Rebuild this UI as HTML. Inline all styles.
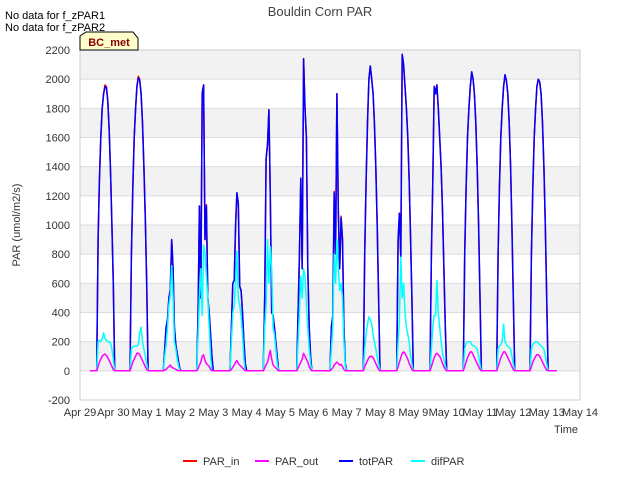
<!DOCTYPE html>
<html><head><meta charset="utf-8"><style>
body{margin:0;background:#fff;font-family:"Liberation Sans",sans-serif;}
svg text{font-family:"Liberation Sans",sans-serif;}
</style></head><body>
<svg id="chart" width="640" height="480">
<text x="320" y="16" text-anchor="middle" font-size="13" fill="#444">Bouldin Corn PAR</text>
<text x="5" y="19" font-size="11" fill="#000">No data for f_zPAR1</text>
<text x="5" y="31" font-size="11" fill="#000">No data for f_zPAR2</text>
<g id="grid"></g>
<g id="axes"></g>
<g id="series"></g>
<g>
<path d="M80,50 L80,36 L86,32 L133,32 L138,38 L138,50 Z" fill="#ffffcc" stroke="#000" stroke-width="1"/>
<text x="109" y="46" text-anchor="middle" font-size="11" font-weight="bold" fill="#8b0000">BC_met</text>
</g>
<text x="20" y="225" transform="rotate(-90 20 225)" text-anchor="middle" font-size="11" fill="#333">PAR (umol/m2/s)</text>
<text x="578" y="433" text-anchor="end" font-size="11" fill="#333">Time</text>
<g id="legend"></g>
</svg>
<script>
const dayLabels=["Apr 29","Apr 30","May 1","May 2","May 3","May 4","May 5","May 6","May 7","May 8","May 9","May 10","May 11","May 12","May 13","May 14"];
const yTicks=[-200,0,200,400,600,800,1000,1200,1400,1600,1800,2000,2200];
const hours=[12,13,14,15,16,17,18,19,20,21,22,23,24,25];
const totPAR=[
[0,900,1300,1600,1800,1900,1950,1940,1850,1650,1350,1000,600,0],
[0,800,1250,1600,1800,1950,2010,1990,1900,1700,1400,1050,600,0],
[0,150,300,350,500,560,900,700,300,180,120,60,10,0],
[0,400,1130,500,1900,1960,900,1130,500,400,250,100,0,0],
[0,300,600,620,1000,1220,1150,580,550,400,200,50,0,0],
[0,500,1450,1550,1790,1200,400,380,300,200,100,0,0,0],
[0,400,780,1320,700,2140,1800,1600,700,300,100,0,0,0],
[0,300,380,1220,800,1900,1100,700,1050,900,300,50,0,0],
[0,800,1300,1700,2000,2090,2000,1900,1700,1400,1000,500,0,0],
[0,900,1080,780,2170,2100,1950,1800,1600,1300,900,500,0,0],
[0,800,1300,1950,1900,1960,1800,1600,1400,1100,700,300,0,0],
[0,800,1250,1600,1800,1950,2050,2000,1900,1700,1400,1000,500,0],
[0,800,1250,1600,1800,1950,2030,1990,1900,1700,1400,1000,500,0],
[0,800,1250,1600,1800,1950,2000,1980,1900,1700,1400,1000,500,0]];
const parIn=[
[0,910,1310,1600,1800,1900,1960,1950,1850,1650,1350,1000,600,0],
[0,800,1250,1600,1800,1950,2020,2000,1900,1700,1400,1050,600,0],
[0,150,300,350,500,560,900,700,300,180,120,60,10,0],
[0,400,1130,500,1910,1960,900,1140,500,400,250,100,0,0],
[0,300,600,620,1000,1220,1150,580,550,400,200,50,0,0],
[0,500,1460,1550,1790,1200,400,380,300,200,100,0,0,0],
[0,400,780,1320,700,2140,1800,1600,700,300,100,0,0,0],
[0,300,380,1230,800,1900,1100,700,1060,900,300,50,0,0],
[0,800,1300,1700,2000,2090,2000,1900,1700,1400,1000,500,0,0],
[0,900,1080,780,2170,2100,1950,1800,1600,1300,900,500,0,0],
[0,800,1300,1950,1900,1960,1800,1600,1400,1100,700,300,0,0],
[0,800,1250,1600,1800,1950,2050,2000,1900,1700,1400,1000,500,0],
[0,800,1250,1600,1800,1950,2030,1990,1900,1700,1400,1000,500,0],
[0,800,1250,1600,1800,1950,2000,1980,1900,1700,1400,1000,500,0]];
const difPAR=[
[0,200,210,200,220,260,220,210,200,200,190,150,80,0],
[0,150,165,170,170,170,180,260,300,200,150,100,50,0],
[0,100,180,300,450,520,720,500,200,150,80,30,0,0],
[0,250,500,700,380,860,800,650,500,300,100,0,0,0],
[0,200,400,450,600,820,500,450,380,250,80,0,0,0],
[0,300,450,900,600,850,700,300,250,150,50,0,0,0],
[0,200,400,650,500,700,650,450,300,150,50,0,0,0],
[0,150,300,800,600,900,700,550,600,500,200,30,0,0],
[0,150,250,320,370,350,320,250,200,150,100,50,0,0],
[0,200,350,780,500,600,400,300,250,200,100,50,0,0],
[0,150,300,380,380,620,400,300,200,120,80,40,0,0],
[0,150,190,200,200,200,180,170,170,160,150,100,50,0],
[0,150,170,180,200,320,200,180,170,160,150,100,50,0],
[0,150,180,190,200,200,190,180,170,160,150,100,50,0]];
const parOut=[
[0,30,60,80,100,110,115,105,90,70,50,30,10,0],
[0,30,60,80,100,120,120,110,90,70,50,30,10,0],
[0,5,10,20,30,40,25,20,15,10,5,0,0,0],
[0,15,40,60,100,110,70,50,40,30,10,0,0,0],
[0,10,25,40,60,70,50,40,30,20,10,0,0,0],
[0,20,40,60,100,140,80,40,30,20,10,0,0,0],
[0,20,40,60,80,120,100,80,60,30,10,0,0,0],
[0,10,20,40,50,60,50,40,45,30,10,0,0,0],
[0,30,50,70,90,100,100,90,70,50,30,10,0,0],
[0,30,60,90,120,130,120,100,80,50,30,10,0,0],
[0,30,60,90,110,120,110,100,80,50,30,10,0,0],
[0,30,60,90,110,130,130,110,90,70,50,30,10,0],
[0,30,60,90,110,130,130,110,90,70,50,30,10,0],
[0,30,60,80,100,110,110,100,80,60,40,20,5,0]];

const NS="http://www.w3.org/2000/svg";
const X0=80,X1=580,Y0=50,Y1=400;
const xs=d=>X0+(d/15)*(X1-X0);
const ys=v=>Y1-(v+200)/2400*(Y1-Y0);
function mk(tag,attrs,parent){const e=document.createElementNS(NS,tag);for(const k in attrs)e.setAttribute(k,attrs[k]);parent.appendChild(e);return e;}
const grid=document.getElementById('grid'),axes=document.getElementById('axes'),ser=document.getElementById('series'),leg=document.getElementById('legend');
mk('rect',{x:X0,y:Y0,width:X1-X0,height:Y1-Y0,fill:'#fff'},grid);
for(let i=0;i<yTicks.length-1;i++){
  const v=yTicks[i];
  if(Math.floor(v/200)%2===0&&v>=0){
    const b=mk('rect',{x:X0,y:ys(v+200),width:X1-X0,height:ys(v)-ys(v+200),fill:'#f2f2f2'},grid);
    
    
  }
}
yTicks.forEach(v=>{
  const l=mk('line',{x1:X0,x2:X1,y1:ys(v),y2:ys(v),stroke:'#dcdcdc','stroke-width':1},grid);
  
  
  const t=mk('text',{x:X0-10,y:ys(v)+4,'text-anchor':'end','font-size':11,fill:'#333'},axes);
  t.textContent=v;
  
  
});
mk('rect',{x:X0,y:Y0,width:X1-X0,height:Y1-Y0,fill:'none',stroke:'#ccc'},axes);
dayLabels.forEach((lab,i)=>{
  const t=mk('text',{x:xs(i),y:Y1+16,'text-anchor':'middle','font-size':11,fill:'#333'},axes);
  t.textContent=lab;
  
  
});
function seriesPath(data){
  let pts=[[0.3,0]];
  data.forEach((day,di)=>{hours.forEach((h,hi)=>{pts.push([di+h/24,day[hi]]);});});
  pts.push([14.3,0]);
  return pts.map((p,i)=>(i?'L':'M')+xs(p[0]).toFixed(1)+','+ys(p[1]).toFixed(1)).join(' ');
}
const defs=[["PAR_in",parIn,"#ff0000","par-in-line"],["PAR_out",parOut,"#ff00ff","par-out-line"],["totPAR",totPAR,"#0000ff","totpar-line"],["difPAR",difPAR,"#00ffff","difpar-line"]];
const order=[0,2,3,1];
order.forEach(i=>{
  const d=defs[i];
  const p=mk('path',{d:seriesPath(d[1]),fill:'none',stroke:d[2],'stroke-width':1.5,'stroke-linejoin':'round'},ser);
  
  
});
const lx=[183,255,339,411];
defs.forEach((d,i)=>{
  const g=mk('g',{},leg);
  
  
  mk('line',{x1:lx[i],x2:lx[i]+14,y1:461,y2:461,stroke:d[2],'stroke-width':2},g);
  const t=mk('text',{x:lx[i]+20,y:465,'font-size':11,fill:'#333'},g);
  t.textContent=d[0];
});
</script>
</body></html>
